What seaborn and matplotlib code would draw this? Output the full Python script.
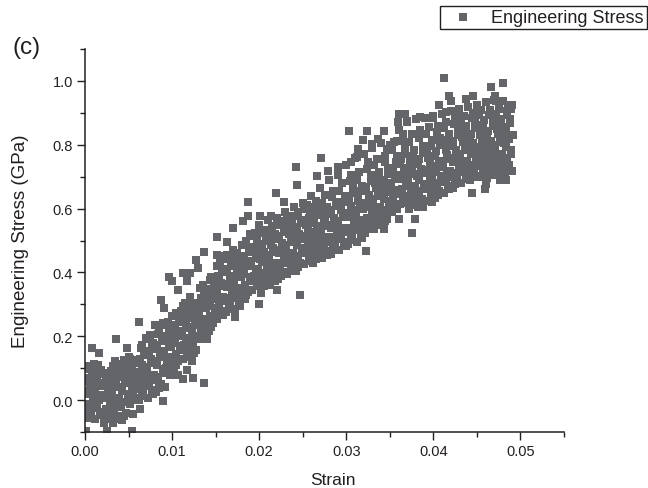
import pandas as pd
import matplotlib
matplotlib.use('Agg')
import matplotlib.pyplot as plt
import seaborn as sns
from matplotlib.ticker import MultipleLocator

# points in the dense band
strain_band = [
    .0002, .0007, .0004, .0009, .0001, .0006, .0003, .0008, .0005, .0010,
    .0012, .0017, .0014, .0019, .0011, .0016, .0013, .0018, .0015, .0020,
    .0022, .0027, .0024, .0029, .0021, .0026, .0023, .0028, .0025, .0030,
    .0032, .0037, .0034, .0039, .0031, .0036, .0033, .0038, .0035, .0040,
    .0042, .0047, .0044, .0049, .0041, .0046, .0043, .0048, .0045, .0050,
    .0052, .0057, .0054, .0059, .0051, .0056, .0053, .0058, .0055, .0060,
    .0062, .0067, .0064, .0069, .0061, .0066, .0063, .0068, .0065, .0070,
    .0072, .0077, .0074, .0079, .0071, .0076, .0073, .0078, .0075, .0080,
    .0082, .0087, .0084, .0089, .0081, .0086, .0083, .0088, .0085, .0090,
    .0092, .0097, .0094, .0099, .0091, .0096, .0093, .0098, .0095, .0100,
    .0102, .0107, .0104, .0109, .0101, .0106, .0103, .0108, .0105, .0110,
    .0112, .0117, .0114, .0119, .0111, .0116, .0113, .0118, .0115, .0120,
    .0122, .0127, .0124, .0129, .0121, .0126, .0123, .0128, .0125, .0130,
    .0132, .0137, .0134, .0139, .0131, .0136, .0133, .0138, .0135, .0140,
    .0142, .0147, .0144, .0149, .0141, .0146, .0143, .0148, .0145, .0150,
    .0152, .0157, .0154, .0159, .0151, .0156, .0153, .0158, .0155, .0160,
    .0162, .0167, .0164, .0169, .0161, .0166, .0163, .0168, .0165, .0170,
    .0172, .0177, .0174, .0179, .0171, .0176, .0173, .0178, .0175, .0180,
    .0182, .0187, .0184, .0189, .0181, .0186, .0183, .0188, .0185, .0190,
    .0192, .0197, .0194, .0199, .0191, .0196, .0193, .0198, .0195, .0200,
    .0202, .0207, .0204, .0209, .0201, .0206, .0203, .0208, .0205, .0210,
    .0212, .0217, .0214, .0219, .0211, .0216, .0213, .0218, .0215, .0220,
    .0222, .0227, .0224, .0229, .0221, .0226, .0223, .0228, .0225, .0230,
    .0232, .0237, .0234, .0239, .0231, .0236, .0233, .0238, .0235, .0240,
    .0242, .0247, .0244, .0249, .0241, .0246, .0243, .0248, .0245, .0250,
    .0252, .0257, .0254, .0259, .0251, .0256, .0253, .0258, .0255, .0260,
    .0262, .0267, .0264, .0269, .0261, .0266, .0263, .0268, .0265, .0270,
    .0272, .0277, .0274, .0279, .0271, .0276, .0273, .0278, .0275, .0280,
    .0282, .0287, .0284, .0289, .0281, .0286, .0283, .0288, .0285, .0290,
    .0292, .0297, .0294, .0299, .0291, .0296, .0293, .0298, .0295, .0300,
    .0302, .0307, .0304, .0309, .0301, .0306, .0303, .0308, .0305, .0310,
    .0312, .0317, .0314, .0319, .0311, .0316, .0313, .0318, .0315, .0320,
    .0322, .0327, .0324, .0329, .0321, .0326, .0323, .0328, .0325, .0330,
    .0332, .0337, .0334, .0339, .0331, .0336, .0333, .0338, .0335, .0340,
    .0342, .0347, .0344, .0349, .0341, .0346, .0343, .0348, .0345, .0350,
    .0352, .0357, .0354, .0359, .0351, .0356, .0353, .0358, .0355, .0360,
    .0362, .0367, .0364, .0369, .0361, .0366, .0363, .0368, .0365, .0370,
    .0372, .0377, .0374, .0379, .0371, .0376, .0373, .0378, .0375, .0380,
    .0382, .0387, .0384, .0389, .0381, .0386, .0383, .0388, .0385, .0390,
    .0392, .0397, .0394, .0399, .0391, .0396, .0393, .0398, .0395, .0400,
    .0402, .0407, .0404, .0409, .0401, .0406, .0403, .0408, .0405, .0410,
    .0412, .0417, .0414, .0419, .0411, .0416, .0413, .0418, .0415, .0420,
    .0422, .0427, .0424, .0429, .0421, .0426, .0423, .0428, .0425, .0430,
    .0432, .0437, .0434, .0439, .0431, .0436, .0433, .0438, .0435, .0440,
    .0442, .0447, .0444, .0449, .0441, .0446, .0443, .0448, .0445, .0450,
    .0452, .0457, .0454, .0459, .0451, .0456, .0453, .0458, .0455, .0460,
    .0462, .0467, .0464, .0469, .0461, .0466, .0463, .0468, .0465, .0470,
    .0472, .0477, .0474, .0479, .0471, .0476, .0473, .0478, .0475, .0480,
    .0482, .0487, .0484, .0489, .0481, .0486, .0483, .0488, .0485, .0490,
]
stress_band = [
    -.055, -.035, -.012, .008, .030, .048, .070, .088, .108, .112,
    -.058, -.038, -.015, .012, .034, .055, .072, .095, .110, .086,
    -.072, -.048, -.028, -.010, .015, .035, .052, .068, .085, .092,
    -.072, -.050, -.020, .006, .028, .050, .072, .092, .122, .105,
    -.062, -.040, -.005, .020, .042, .060, .082, .100, .125, .135,
    -.012, .008, .030, .050, .070, .088, .108, .125, .018, .060,
    .000, .022, .045, .065, .088, .110, .130, .150, .172, .195,
    .008, .032, .055, .080, .105, .128, .155, .180, .205, .235,
    .025, .050, .072, .098, .122, .148, .172, .195, .218, .240,
    .040, .092, .112, .135, .155, .178, .200, .222, .245, .262,
    .100, .122, .145, .168, .190, .212, .235, .255, .272, .280,
    .130, .150, .172, .195, .215, .238, .260, .282, .305, .322,
    .135, .158, .180, .202, .225, .245, .268, .290, .305, .295,
    .190, .212, .232, .255, .278, .298, .320, .342, .360, .330,
    .215, .240, .262, .285, .305, .328, .348, .368, .385, .355,
    .255, .278, .300, .322, .345, .368, .388, .410, .432, .450,
    .275, .298, .320, .345, .365, .388, .410, .432, .452, .470,
    .285, .308, .330, .352, .375, .398, .420, .442, .462, .485,
    .318, .340, .362, .385, .408, .430, .452, .475, .498, .520,
    .345, .368, .390, .412, .435, .458, .480, .502, .525, .548,
    .335, .375, .398, .420, .442, .465, .488, .510, .532, .565,
    .360, .385, .408, .430, .452, .475, .498, .520, .545, .572,
    .378, .402, .425, .448, .470, .492, .515, .538, .560, .590,
    .395, .418, .440, .462, .485, .508, .530, .552, .578, .605,
    .405, .428, .450, .475, .498, .520, .542, .565, .590, .618,
    .425, .448, .470, .492, .515, .538, .560, .585, .612, .640,
    .430, .455, .478, .500, .522, .545, .568, .592, .625, .665,
    .445, .468, .490, .512, .535, .558, .580, .605, .642, .690,
    .458, .482, .505, .528, .550, .572, .595, .622, .655, .705,
    .470, .495, .518, .540, .562, .585, .608, .638, .680, .735,
    .490, .515, .540, .562, .585, .608, .632, .665, .705, .760,
    .495, .520, .542, .565, .590, .612, .638, .672, .715, .770,
    .525, .548, .572, .595, .618, .642, .668, .705, .745, .790,
    .535, .560, .582, .605, .628, .652, .680, .715, .755, .805,
    .548, .572, .595, .618, .640, .665, .690, .725, .765, .800,
    .590, .612, .635, .658, .680, .702, .728, .765, .808, .845,
    .615, .638, .660, .682, .705, .728, .755, .790, .835, .875,
    .600, .625, .648, .672, .695, .720, .748, .785, .835, .880,
    .605, .630, .655, .678, .702, .725, .755, .795, .845, .885,
    .625, .650, .675, .698, .722, .745, .775, .815, .855, .890,
    .632, .655, .680, .702, .725, .750, .780, .820, .860, .895,
    .650, .672, .695, .718, .742, .768, .798, .835, .870, .905,
    .665, .690, .712, .735, .758, .782, .812, .848, .882, .912,
    .680, .705, .728, .750, .772, .795, .825, .858, .890, .918,
    .690, .712, .735, .758, .782, .805, .835, .868, .900, .925,
    .700, .722, .745, .768, .790, .815, .845, .878, .910, .935,
    .695, .718, .742, .765, .788, .812, .842, .875, .908, .940,
    .705, .728, .750, .772, .795, .820, .848, .880, .912, .938,
    .715, .738, .760, .782, .805, .830, .855, .882, .905, .925,
]
# second reading of the solid middle of the band
strain_core = [
    .0005, .0001, .0009, .0003, .0007, .0002, .0008, .0004,
    .0018, .0013, .0016, .0011, .0019, .0014, .0017, .0012,
    .0025, .0021, .0029, .0023, .0027, .0022, .0028, .0024,
    .0038, .0033, .0036, .0031, .0039, .0034, .0037, .0032,
    .0045, .0041, .0049, .0043, .0047, .0042, .0048, .0044,
    .0058, .0053, .0056, .0051, .0059, .0054, .0057, .0052,
    .0065, .0061, .0069, .0063, .0067, .0062, .0068, .0064,
    .0078, .0073, .0076, .0071, .0079, .0074, .0077, .0072,
    .0085, .0081, .0089, .0083, .0087, .0082, .0088, .0084,
    .0098, .0093, .0096, .0091, .0099, .0094, .0097, .0092,
    .0105, .0101, .0109, .0103, .0107, .0102, .0108, .0104,
    .0118, .0113, .0116, .0111, .0119, .0114, .0117, .0112,
    .0125, .0121, .0129, .0123, .0127, .0122, .0128, .0124,
    .0138, .0133, .0136, .0131, .0139, .0134, .0137, .0132,
    .0145, .0141, .0149, .0143, .0147, .0142, .0148, .0144,
    .0158, .0153, .0156, .0151, .0159, .0154, .0157, .0152,
    .0165, .0161, .0169, .0163, .0167, .0162, .0168, .0164,
    .0178, .0173, .0176, .0171, .0179, .0174, .0177, .0172,
    .0185, .0181, .0189, .0183, .0187, .0182, .0188, .0184,
    .0198, .0193, .0196, .0191, .0199, .0194, .0197, .0192,
    .0205, .0201, .0209, .0203, .0207, .0202, .0208, .0204,
    .0218, .0213, .0216, .0211, .0219, .0214, .0217, .0212,
    .0225, .0221, .0229, .0223, .0227, .0222, .0228, .0224,
    .0238, .0233, .0236, .0231, .0239, .0234, .0237, .0232,
    .0245, .0241, .0249, .0243, .0247, .0242, .0248, .0244,
    .0258, .0253, .0256, .0251, .0259, .0254, .0257, .0252,
    .0265, .0261, .0269, .0263, .0267, .0262, .0268, .0264,
    .0278, .0273, .0276, .0271, .0279, .0274, .0277, .0272,
    .0285, .0281, .0289, .0283, .0287, .0282, .0288, .0284,
    .0298, .0293, .0296, .0291, .0299, .0294, .0297, .0292,
    .0305, .0301, .0309, .0303, .0307, .0302, .0308, .0304,
    .0318, .0313, .0316, .0311, .0319, .0314, .0317, .0312,
    .0325, .0321, .0329, .0323, .0327, .0322, .0328, .0324,
    .0338, .0333, .0336, .0331, .0339, .0334, .0337, .0332,
    .0345, .0341, .0349, .0343, .0347, .0342, .0348, .0344,
    .0358, .0353, .0356, .0351, .0359, .0354, .0357, .0352,
    .0365, .0361, .0369, .0363, .0367, .0362, .0368, .0364,
    .0378, .0373, .0376, .0371, .0379, .0374, .0377, .0372,
    .0385, .0381, .0389, .0383, .0387, .0382, .0388, .0384,
    .0398, .0393, .0396, .0391, .0399, .0394, .0397, .0392,
    .0405, .0401, .0409, .0403, .0407, .0402, .0408, .0404,
    .0418, .0413, .0416, .0411, .0419, .0414, .0417, .0412,
    .0425, .0421, .0429, .0423, .0427, .0422, .0428, .0424,
    .0438, .0433, .0436, .0431, .0439, .0434, .0437, .0432,
    .0445, .0441, .0449, .0443, .0447, .0442, .0448, .0444,
    .0458, .0453, .0456, .0451, .0459, .0454, .0457, .0452,
    .0465, .0461, .0469, .0463, .0467, .0462, .0468, .0464,
    .0478, .0473, .0476, .0471, .0479, .0474, .0477, .0472,
    .0485, .0481, .0489, .0483, .0487, .0482, .0488, .0484,
]
stress_core = [
    -.045, -.020, .000, .020, .040, .060, .080, .098,
    -.048, -.025, .000, .022, .045, .062, .082, .100,
    -.060, -.038, -.018, .005, .025, .044, .060, .078,
    -.060, -.035, -.008, .016, .040, .062, .082, .108,
    -.050, -.022, .008, .030, .052, .072, .090, .112,
    .000, .020, .040, .060, .080, .098, .116, .130,
    .012, .034, .055, .076, .098, .120, .140, .162,
    .020, .044, .068, .092, .116, .142, .168, .192,
    .038, .062, .085, .110, .135, .160, .185, .208,
    .080, .102, .124, .146, .166, .190, .212, .234,
    .110, .134, .156, .180, .202, .224, .245, .264,
    .140, .162, .184, .205, .228, .250, .272, .294,
    .146, .170, .192, .214, .236, .258, .280, .298,
    .200, .222, .244, .266, .288, .310, .332, .350,
    .228, .250, .272, .295, .318, .338, .358, .375,
    .266, .290, .312, .334, .356, .378, .400, .420,
    .286, .310, .332, .355, .378, .400, .420, .442,
    .296, .320, .342, .364, .386, .410, .432, .452,
    .330, .352, .374, .396, .420, .442, .464, .486,
    .356, .380, .402, .424, .446, .468, .490, .514,
    .356, .386, .410, .432, .454, .476, .500, .522,
    .372, .396, .420, .442, .464, .486, .510, .532,
    .390, .414, .436, .460, .482, .504, .526, .550,
    .406, .430, .452, .474, .496, .520, .542, .565,
    .416, .440, .462, .486, .510, .532, .554, .578,
    .436, .460, .482, .504, .526, .550, .572, .598,
    .442, .466, .490, .512, .534, .556, .580, .605,
    .456, .480, .502, .524, .546, .570, .592, .618,
    .470, .494, .516, .540, .562, .584, .608, .635,
    .482, .506, .530, .552, .574, .596, .622, .655,
    .502, .528, .550, .574, .596, .620, .648, .685,
    .508, .532, .555, .578, .600, .625, .655, .690,
    .536, .560, .584, .606, .630, .655, .685, .725,
    .548, .572, .594, .616, .640, .665, .698, .735,
    .560, .584, .606, .630, .652, .678, .708, .745,
    .600, .624, .646, .670, .692, .715, .745, .785,
    .626, .650, .672, .694, .716, .740, .772, .812,
    .612, .636, .660, .684, .708, .734, .766, .810,
    .618, .642, .666, .690, .714, .740, .775, .820,
    .638, .662, .686, .710, .734, .760, .795, .835,
    .644, .668, .692, .714, .738, .765, .800, .840,
    .660, .684, .706, .730, .755, .782, .816, .852,
    .678, .700, .724, .746, .770, .796, .830, .865,
    .692, .716, .740, .762, .784, .810, .842, .874,
    .700, .724, .746, .770, .794, .820, .852, .884,
    .710, .734, .756, .780, .802, .830, .862, .894,
    .706, .730, .754, .776, .800, .826, .858, .892,
    .716, .740, .762, .784, .808, .834, .864, .896,
    .726, .750, .772, .794, .818, .842, .868, .894,
]
# isolated squares around the edge of the band
strain_edge = [
    .0008, .0016, .0036, .0048, .0089, .0055, .0063, .0025, .0054, .0001,
    .0137, .0124, .0112, .0107, .0117, .0123, .0096, .0100, .0107, .0087,
    .0091, .0062, .0113, .0121, .0117, .0128, .0130, .0137, .0151, .0163,
    .0200, .0172, .0221, .0216, .0247, .0140, .0219, .0242, .0243, .0187,
    .0152, .0170, .0163, .0181, .0187, .0201, .0213, .0228, .0412, .0480,
    .0466, .0418, .0420, .0407, .0438, .0445, .0303, .0324, .0343, .0271,
    .0368, .0361, .0490, .0477, .0483, .0460, .0459, .0444, .0408, .0394,
    .0379, .0361, .0347, .0376, .0343, .0427, .0414, .0430, .0458, .0469,
    .0491, .0489, .0323, .0300,
    .0266, .0279, .0290, .0305, .0312, .0314, .0319, .0330, .0337, .0347,
    .0358, .0359, .0370, .0385, .0400, .0415, .0427, .0450, .0471, .0472,
    .0486, .0388, .0398, .0339, .0370, .0320, .0305, .0287, .0270, .0255,
    .0446, .0454, .0416, .0151, .0140, .0216, .0197, .0184,
]
stress_edge = [
    .163, .149, .191, .163, -.003, -.043, -.028, -.096, -.097, -.096,
    .053, .069, .067, .079, .095, .122, .385, .372, .346, .314,
    .288, .245, .398, .398, .372, .440, .414, .465, .455, .455,
    .301, .261, .346, .372, .329, .191, .649, .731, .675, .620,
    .510, .539, .496, .562, .578, .578, .578, .620, 1.009, .995,
    .980, .952, .938, .925, .944, .952, .843, .843, .843, .760,
    .897, .897, .718, .690, .690, .676, .662, .649, .649, .662,
    .567, .567, .567, .524, .536, .690, .690, .746, .746, .718,
    .830, .912, .468, .484,
    .703, .718, .731, .746, .761, .787, .816, .802, .818, .787,
    .812, .871, .871, .887, .884, .903, .897, .925, .954, .938,
    .925, .605, .622, .605, .618, .536, .536, .511, .484, .505,
    .718, .703, .716, .276, .238, .401, .358, .317,
]
x_ticks = [0.00, 0.01, 0.02, 0.03, 0.04, 0.05]
y_ticks = [0.0, 0.2, 0.4, 0.6, 0.8, 1.0]

df = pd.DataFrame({
    'strain': strain_band + strain_core + strain_edge,
    'stress': stress_band + stress_core + stress_edge,
})

sns.set_style('ticks')
plt.rcParams['font.family'] = ['Liberation Sans', 'DejaVu Sans']
ink = '#231f20'
grey = '#636569'

fig = plt.figure(figsize=(6.48, 4.89), dpi=100)
ax = fig.add_axes([85 / 648, 1 - 433 / 489, 479 / 648, 383 / 489])
sns.scatterplot(data=df, x='strain', y='stress', marker='s', s=35, color=grey,
                linewidth=0, label='Engineering Stress', ax=ax)

ax.set_xlim(0, 0.055)
ax.set_ylim(-0.1, 1.1)
ax.set_xticks(x_ticks)
ax.set_xticklabels([f'{t:.2f}' for t in x_ticks])
ax.set_yticks(y_ticks)
ax.set_yticklabels([f'{t:.1f}' for t in y_ticks])
ax.xaxis.set_minor_locator(MultipleLocator(0.005))
ax.yaxis.set_minor_locator(MultipleLocator(0.1))
ax.tick_params(which='major', length=5.8, width=1, color=ink, labelcolor=ink,
               labelsize=10.5, pad=3)
ax.tick_params(which='minor', length=3.6, width=1, color=ink)
sns.despine(ax=ax)
for side in ['left', 'bottom']:
    ax.spines[side].set_linewidth(1.1)
    ax.spines[side].set_color(ink)

ax.set_xlabel('Strain', fontsize=12.5, color=ink)
ax.set_ylabel('Engineering Stress (GPa)', fontsize=13.5, color=ink)
ax.xaxis.set_label_coords(0.518, -0.125)
ax.yaxis.set_label_coords(-0.134, 0.501)
for lab in [ax.xaxis.label, ax.yaxis.label]:
    lab.set_verticalalignment('center')

leg = ax.legend(loc='upper right', bbox_to_anchor=(646.7 / 648, 1 - 7.3 / 489),
                bbox_transform=fig.transFigure, fontsize=13, frameon=True,
                fancybox=False, framealpha=1, edgecolor=ink, borderaxespad=0,
                borderpad=0.15, handletextpad=0.5, handlelength=2.2)
leg.get_frame().set_linewidth(1)
for t in leg.get_texts():
    t.set_color(ink)

fig.text(13 / 648, 1 - 48 / 489, '(c)', fontsize=17.5, color=ink, va='center')

fig.savefig('out.png', dpi=100)
